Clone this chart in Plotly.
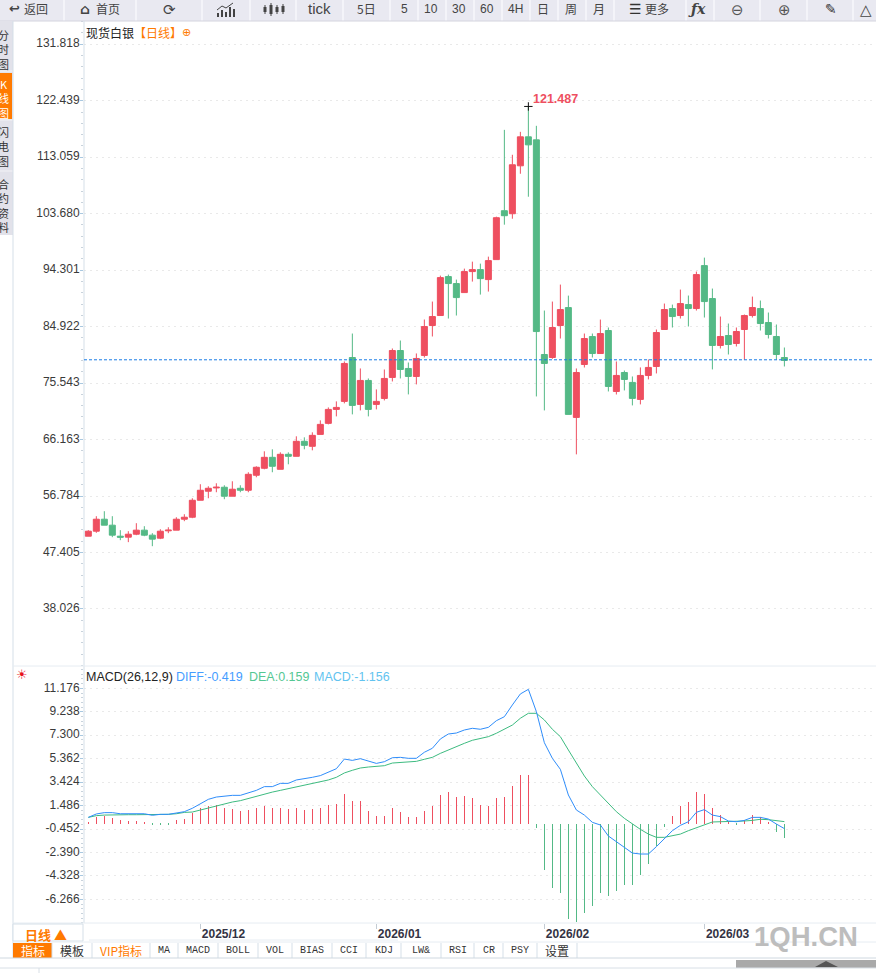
import plotly.graph_objects as go

# daily candles (spot silver)
open_px = [
    50.11, 50.94, 52.93, 51.94, 50.11, 49.95, 50.44, 51.11, 50.28, 49.78,
    51.00, 51.11, 52.93, 53.26, 56.08, 57.58, 58.13, 58.24, 56.75, 58.07,
    57.74, 60.23, 61.39, 63.21, 61.22, 63.71, 63.38, 65.87, 65.04, 67.02,
    68.85, 71.17, 72.50, 79.79, 72.00, 75.98, 72.00, 72.99, 76.48, 80.95,
    77.97, 76.64, 80.13, 85.10, 86.76, 93.23, 92.07, 90.57, 94.06, 94.39,
    92.73, 96.05, 104.17, 103.67, 111.63, 116.44, 115.94, 80.29, 79.79, 85.10,
    88.08, 69.84, 78.63, 83.27, 80.45, 84.27, 74.15, 77.30, 75.65, 72.83,
    76.81, 78.30, 84.44, 87.92, 86.76, 88.58, 87.92, 95.05, 89.58, 81.79,
    83.44, 82.12, 84.44, 86.76, 87.92, 85.60, 83.28, 79.79,
]
high_px = [
    51.11, 53.43, 54.26, 53.43, 51.11, 50.94, 52.27, 51.77, 50.61, 51.27,
    51.60, 53.26, 53.76, 56.41, 58.74, 58.40, 58.90, 58.57, 59.23, 58.57,
    60.73, 61.72, 64.21, 64.54, 64.04, 64.04, 66.70, 66.53, 67.36, 69.35,
    71.50, 72.50, 79.13, 83.77, 77.97, 76.31, 74.49, 77.80, 81.29, 82.61,
    78.96, 80.46, 86.10, 89.08, 93.39, 93.56, 92.73, 94.55, 95.71, 95.38,
    96.54, 103.18, 117.60, 113.46, 117.27, 121.487, 118.27, 87.59, 89.08, 91.90,
    90.07, 77.97, 83.77, 83.77, 86.09, 84.77, 79.13, 77.63, 76.64, 78.14,
    79.46, 84.44, 88.75, 88.58, 91.07, 90.08, 94.06, 96.38, 91.24, 86.59,
    85.43, 84.77, 86.93, 89.91, 89.25, 87.26, 85.27, 81.45,
]
low_px = [
    50.11, 50.67, 51.94, 49.95, 49.45, 49.12, 50.28, 50.11, 48.45, 49.62,
    50.61, 51.11, 52.60, 53.10, 56.08, 56.41, 57.41, 56.25, 56.75, 57.41,
    57.41, 59.90, 61.22, 60.73, 61.22, 62.05, 63.38, 64.54, 64.37, 67.02,
    68.68, 70.01, 72.17, 70.34, 71.00, 70.01, 71.17, 72.66, 75.81, 76.31,
    73.66, 75.32, 79.79, 83.28, 86.76, 86.26, 86.76, 90.57, 92.40, 90.24,
    90.74, 96.05, 101.85, 102.84, 110.31, 106.49, 73.32, 71.00, 79.57, 82.94,
    70.34, 63.70, 78.13, 79.79, 80.45, 74.15, 73.65, 74.32, 71.83, 72.00,
    76.15, 77.14, 84.44, 84.77, 86.26, 84.94, 87.59, 86.43, 77.81, 81.29,
    80.29, 81.62, 79.41, 86.43, 84.27, 82.95, 79.41, 78.30,
]
close_px = [
    50.94, 52.93, 51.94, 50.28, 49.95, 50.44, 51.11, 50.28, 49.62, 50.94,
    51.11, 52.93, 53.26, 56.08, 57.74, 58.07, 58.24, 56.75, 57.91, 57.74,
    60.39, 61.56, 63.21, 61.72, 63.71, 63.38, 65.87, 65.20, 66.86, 68.68,
    71.17, 71.50, 78.80, 71.83, 75.98, 71.17, 72.50, 76.31, 80.95, 77.80,
    76.64, 79.63, 84.93, 86.59, 93.06, 92.07, 89.74, 94.06, 94.39, 92.89,
    95.88, 103.01, 103.34, 111.80, 116.44, 115.11, 84.10, 78.80, 84.77, 87.75,
    70.34, 77.30, 82.94, 80.45, 83.77, 74.98, 76.81, 76.14, 73.00, 76.81,
    78.14, 83.94, 87.76, 86.59, 88.75, 87.92, 93.56, 89.08, 81.79, 83.28,
    81.95, 84.11, 86.76, 88.09, 85.43, 83.61, 80.29, 79.30,
]

# MACD pane
diff_line = [
    0.51, 0.79, 0.90, 0.90, 0.81, 0.81, 0.81, 0.81, 0.68, 0.76,
    0.76, 0.87, 0.98, 1.26, 1.61, 2.00, 2.19, 2.27, 2.33, 2.33,
    2.55, 2.74, 3.05, 3.05, 3.32, 3.32, 3.60, 3.68, 3.82, 3.96,
    4.23, 4.53, 5.33, 5.22, 5.36, 5.14, 4.97, 5.11, 5.44, 5.47,
    5.39, 5.39, 5.89, 6.22, 6.99, 7.40, 7.48, 7.73, 7.87, 7.79,
    7.95, 8.50, 8.83, 9.80, 10.71, 11.09, 9.25, 6.68, 5.39, 4.48,
    2.36, 1.12, 0.70, 0.10, -0.12, -1.03, -1.50, -1.91, -2.44, -2.52,
    -2.52, -1.91, -1.22, -0.59, -0.15, 0.15, 0.93, 1.15, 0.70, 0.57,
    0.21, 0.15, 0.26, 0.51, 0.51, 0.37, -0.04, -0.419,
]
dea_line = [
    0.51, 0.65, 0.70, 0.73, 0.73, 0.73, 0.73, 0.73, 0.73, 0.76,
    0.76, 0.81, 0.92, 0.95, 1.12, 1.28, 1.48, 1.67, 1.78, 1.89,
    2.08, 2.27, 2.44, 2.60, 2.74, 2.88, 2.99, 3.13, 3.27, 3.40,
    3.60, 3.82, 4.18, 4.40, 4.59, 4.67, 4.73, 4.78, 5.00, 5.06,
    5.14, 5.14, 5.31, 5.47, 5.80, 6.08, 6.41, 6.63, 6.88, 7.04,
    7.18, 7.46, 7.79, 8.14, 8.70, 9.11, 9.11, 8.56, 7.79, 7.18,
    6.08, 4.98, 3.93, 3.05, 2.36, 1.67, 0.98, 0.43, -0.04, -0.48,
    -0.87, -1.14, -1.14, -1.00, -0.87, -0.59, -0.34, -0.07, 0.13, 0.15,
    0.15, 0.15, 0.21, 0.26, 0.35, 0.32, 0.26, 0.159,
]
macd_bars = [
    0.08, 0.58, 0.66, 0.47, 0.28, 0.17, 0.22, 0.06, -0.16, -0.08,
    -0.05, 0.30, 0.39, 0.88, 1.29, 1.46, 1.54, 1.29, 1.21, 1.05,
    1.13, 1.29, 1.46, 1.29, 1.29, 1.21, 1.29, 1.13, 1.21, 1.29,
    1.54, 1.63, 2.45, 1.87, 1.87, 1.05, 0.63, 0.63, 1.29, 0.99,
    0.58, 0.58, 1.07, 1.49, 2.40, 2.64, 2.23, 2.31, 2.15, 1.57,
    1.41, 2.07, 2.23, 3.14, 4.05, 4.05, -0.33, -3.88, -5.29, -5.70,
    -7.93, -8.13, -7.36, -6.78, -5.70, -5.95, -5.54, -5.12, -5.04, -4.22,
    -3.31, -1.82, -0.25, 0.66, 1.49, 1.82, 2.64, 2.48, 1.32, 0.74,
    0.08, -0.08, 0.33, 0.74, 0.50, 0.08, -0.66, -1.156,
]

price_ticks = [131.818, 122.439, 113.059, 103.680, 94.301, 84.922, 75.543, 66.163, 56.784, 47.405, 38.026]
macd_ticks = [11.176, 9.238, 7.300, 5.362, 3.424, 1.486, -0.452, -2.390, -4.328, -6.266]
month_labels = ["2025/12", "2026/01", "2026/02", "2026/03"]
month_bars = [14, 36, 57, 77]
last_price = 79.41
peak_bar = 55
peak_price = 121.487

RED = "#ee4f60"
GREEN = "#54b986"
GRID = "#e9e9e9"
EDGE = "#d5dfe8"
ORANGE = "#ff7a00"
W, H = 876, 973
SANS = "Liberation Sans"
CJK = "Noto Sans CJK SC"
MONO = "Liberation Mono"

bars = list(range(len(close_px)))
shapes = []
notes = []


def box(x0, y0, x1, y1, fill=None, edge=None, width=1):
    shapes.append(dict(
        type="rect", xref="paper", yref="paper", layer="above",
        x0=x0 / W, x1=x1 / W, y0=1 - y0 / H, y1=1 - y1 / H,
        fillcolor=fill or "rgba(0,0,0,0)",
        line=dict(color=edge or "rgba(0,0,0,0)", width=width if edge else 0),
    ))


def rule(x0, y0, x1, y1, color=EDGE, width=1):
    shapes.append(dict(
        type="line", xref="paper", yref="paper", layer="above",
        x0=x0 / W, x1=x1 / W, y0=1 - y0 / H, y1=1 - y1 / H,
        line=dict(color=color, width=width),
    ))


def note(x, y, text, size=12, color="#333333", family=SANS, anchor="center"):
    notes.append(dict(
        xref="paper", yref="paper", x=x / W, y=1 - y / H, text=text,
        showarrow=False, xanchor=anchor, yanchor="middle", borderpad=0,
        font=dict(size=size, color=color, family=family),
    ))


# toolbar along the top
box(0, 0, W, 21, "#e9e9f1")
for edge_x in [64, 136, 202, 250, 296, 343, 390, 418, 446, 474, 502, 530, 558, 586, 614, 686, 714, 760, 807, 853]:
    rule(edge_x, 0, edge_x, 21, "#f7f7fb", 1.5)
rule(0, 21, W, 21, "#d4d4de")
for x, label, size, family in [
    (36, "返回", 12, CJK), (108, "首页", 12, CJK), (319, "tick", 15, SANS), (366, "5日", 12, CJK),
    (404, "5", 12, SANS), (431, "10", 12, SANS), (459, "30", 12, SANS), (487, "60", 12, SANS),
    (515, "4H", 12, SANS), (543, "日", 12, CJK), (571, "周", 12, CJK), (599, "月", 12, CJK),
    (657, "更多", 12, CJK),
]:
    note(x, 9, label, size, "#444444", family)
note(14, 9, "<b>↩</b>", 13, "#444444", "DejaVu Sans")
note(85, 9, "<b>⌂</b>", 14, "#444444", "DejaVu Sans")
note(169, 10, "⟳", 15, "#444444", "DejaVu Sans")
note(635, 9, "☰", 14, "#333333", "DejaVu Sans")
note(697, 9, "<b><i>ƒx</i></b>", 14, "#444444", "DejaVu Serif")
note(737, 10, "⊖", 15, "#555555", "DejaVu Sans")
note(784, 10, "⊕", 15, "#555555", "DejaVu Sans")
note(831, 9, "✎", 14, "#333333", "DejaVu Sans")
note(866, 10, "△", 15, "#444444", "DejaVu Sans")
for x0, x1, y0 in [(217, 219, 13), (221, 223, 10), (225, 227, 12), (229, 231, 7), (233, 235, 9)]:
    box(x0, y0, x1, 17, "#444444")
rule(217, 10, 222, 6, "#444444", 1)
rule(222, 6, 226, 8, "#444444", 1)
rule(226, 8, 233, 3, "#444444", 1)
for x, y0, y1 in [(265, 5, 14), (271, 3, 16), (277, 5, 14), (283, 4, 14)]:
    rule(x, y0, x, y1, "#444444", 1)
    box(x - 1.5, y0 + 2, x + 1.5, y1 - 2, "#444444")

# left side tabs, the text runs off the window edge like the original
box(0, 21, 13, 235, "#e2e2ea")
box(0, 73, 12, 119, ORANGE)
for tab_y in [71, 120, 171]:
    rule(0, tab_y, 13, tab_y, "#f2f2f6")
for y, label, color in [
    (49, "分<br>时<br>图", "#333333"),
    (98, "K<br>线<br>图", "#ffffff"),
    (147, "闪<br>电<br>图", "#333333"),
    (206, "合<br>约<br>资<br>料", "#333333"),
]:
    note(3.5, y, label, 11, color, CJK)
rule(13, 21, 13, 958)
rule(84, 21, 84, 923)
rule(13, 666, W, 666, "#e6ecf2")
rule(13, 923, W, 923, "#e6ecf2")

# chart headers
note(85, 32, "现货白银<span style='color:%s'>【日线】</span>" % ORANGE, 12, "#222222", CJK, "left")
note(186, 32.5, "⊕", 11, ORANGE, "DejaVu Sans")
note(22, 674, "☀", 13, "#e8141c", "DejaVu Sans")
note(85, 677, "MACD(26,12,9)", 12.5, "#222222", SANS, "left")
note(175, 677, "DIFF:-0.419", 12.5, "#459dff", SANS, "left")
note(248, 677, "DEA:0.159", 12.5, "#55c793", SANS, "left")
note(313, 677, "MACD:-1.156", 12.5, "#62c3ef", SANS, "left")

# bottom strip with the indicator tabs
box(13, 924, 83, 941, "#ffffff", "#d5dfe8")
note(46, 934, "<b>日线 ▲</b>", 13, ORANGE, CJK)
rule(89, 940, 398, 940, "#e6ecf2")
rule(13, 942, W, 942, "#e6ecf2")
tab_edges = [13, 52, 92, 150, 178, 218, 258, 292, 332, 366, 401, 441, 474, 503, 537, 577]
tab_names = ["指标", "模板", "VIP指标", "MA", "MACD", "BOLL", "VOL", "BIAS", "CCI", "KDJ", "LW&", "RSI", "CR", "PSY", "设置"]
for n, name in enumerate(tab_names):
    x0, x1 = tab_edges[n], tab_edges[n + 1]
    is_cjk = any(ord(c) > 127 for c in name)
    if n == 0:
        box(x0, 943, x1, 958, ORANGE)
    color = "#ffffff" if n == 0 else ORANGE if n == 2 else "#333333"
    note((x0 + x1) / 2, 950, name, 12 if is_cjk else 10, color, CJK if is_cjk else MONO)
    rule(x1, 943, x1, 958)
rule(0, 958, W, 958, "#cfd8e0")
box(736, 960, W, 968, "#a9a9a9")
shapes.append(dict(
    type="path", xref="paper", yref="paper", layer="above", line=dict(width=0), fillcolor="#555555",
    path="M %f %f L %f %f L %f %f Z" % (815 / W, 1 - 967 / H, 838 / W, 1 - 967 / H, 826 / W, 1 - 961 / H),
))
rule(0, 968, W, 968, "#d8dfe6")
rule(39, 968, 39, H, "#d8dfe6")
note(806, 936, "<b>1QH.CN</b>", 27.5, "#bdbdbd", SANS)

fig = go.Figure()
fig.add_trace(go.Candlestick(
    x=bars, open=open_px, high=high_px, low=low_px, close=close_px,
    increasing=dict(line=dict(color=RED, width=1), fillcolor=RED),
    decreasing=dict(line=dict(color=GREEN, width=1), fillcolor=GREEN),
    whiskerwidth=0, xaxis="x", yaxis="y", showlegend=False,
))
fig.add_trace(go.Scatter(
    x=[peak_bar], y=[peak_price], mode="markers", xaxis="x", yaxis="y", showlegend=False,
    marker=dict(symbol="cross-thin", size=6, line=dict(color="#111111", width=1)),
))
fig.add_trace(go.Bar(
    x=bars, y=macd_bars, width=0.08, xaxis="x2", yaxis="y2", showlegend=False,
    marker=dict(color=[RED if v > 0 else GREEN for v in macd_bars], line=dict(width=0)),
))
fig.add_trace(go.Scatter(
    x=bars, y=dea_line, mode="lines", line=dict(color="#3dbb80", width=1),
    xaxis="x2", yaxis="y2", showlegend=False,
))
fig.add_trace(go.Scatter(
    x=bars, y=diff_line, mode="lines", line=dict(color="#2f8dfa", width=1),
    xaxis="x2", yaxis="y2", showlegend=False,
))

shapes.append(dict(
    type="line", xref="x", yref="y", layer="above", x0=-0.54, x1=98.2, y0=last_price, y1=last_price,
    line=dict(color="#1a7de6", width=1, dash="3px,2px"),
))
notes.append(dict(
    xref="x", yref="y", x=peak_bar, y=peak_price, text="<b>121.487</b>", showarrow=False,
    xanchor="left", yanchor="bottom", xshift=3, yshift=-2,
    font=dict(size=12.5, color=RED, family=SANS),
))

x_span = [-0.54, 98.2]
x_dom = [84 / W, 874 / W]
tick_font = dict(size=12, color="#3a3a3a", family=SANS)


def value_axis(ticks, lo, hi, dom, anchor):
    step = ticks[0] - ticks[1]
    return dict(
        domain=dom, range=[lo, hi], anchor=anchor, tickmode="array",
        tickvals=ticks, ticktext=["%.3f" % t for t in ticks],
        ticks="outside", ticklen=3, tickcolor="#a9c8e0", tickfont=tick_font,
        ticklabelstandoff=-2, ticklabelshift=-1,
        showgrid=True, gridcolor=GRID, griddash="2px,4px", gridwidth=1,
        zeroline=False, showline=False,
        minor=dict(ticks="outside", ticklen=2, tickcolor="#c9d3dc", tick0=ticks[0], dtick=step / 5, showgrid=False),
    )


fig.update_layout(
    width=W,
    height=H,
    margin=dict(l=0, r=0, t=0, b=0),
    paper_bgcolor="white",
    plot_bgcolor="white",
    boxgap=0.25,
    boxgroupgap=0,
    bargap=0,
    showlegend=False,
    hovermode=False,
    xaxis=dict(
        domain=x_dom, range=x_span, anchor="y", rangeslider=dict(visible=False),
        showgrid=False, showticklabels=False, ticks="", zeroline=False,
    ),
    yaxis=value_axis(price_ticks, 28.55, 135.68, [1 - 666 / H, 1 - 21 / H], "x"),
    xaxis2=dict(
        domain=x_dom, range=x_span, anchor="y2", tickmode="array", tickvals=month_bars,
        ticktext=["<b>%s</b>" % m for m in month_labels], ticklabelposition="outside right",
        ticks="outside", ticklen=5, tickcolor="#c4ccd4", tickfont=dict(size=12, color="#333344", family=SANS),
        ticklabelshift=1, showgrid=False, zeroline=False,
    ),
    yaxis2=value_axis(macd_ticks, -8.22, 13.02, [1 - 923 / H, 1 - 666 / H], "x2"),
    shapes=shapes,
    annotations=notes,
)

fig.write_html(
    "out.html",
    config=dict(displayModeBar=False),
    post_script="document.body.style.margin='0';document.body.style.overflow='hidden';",
)
